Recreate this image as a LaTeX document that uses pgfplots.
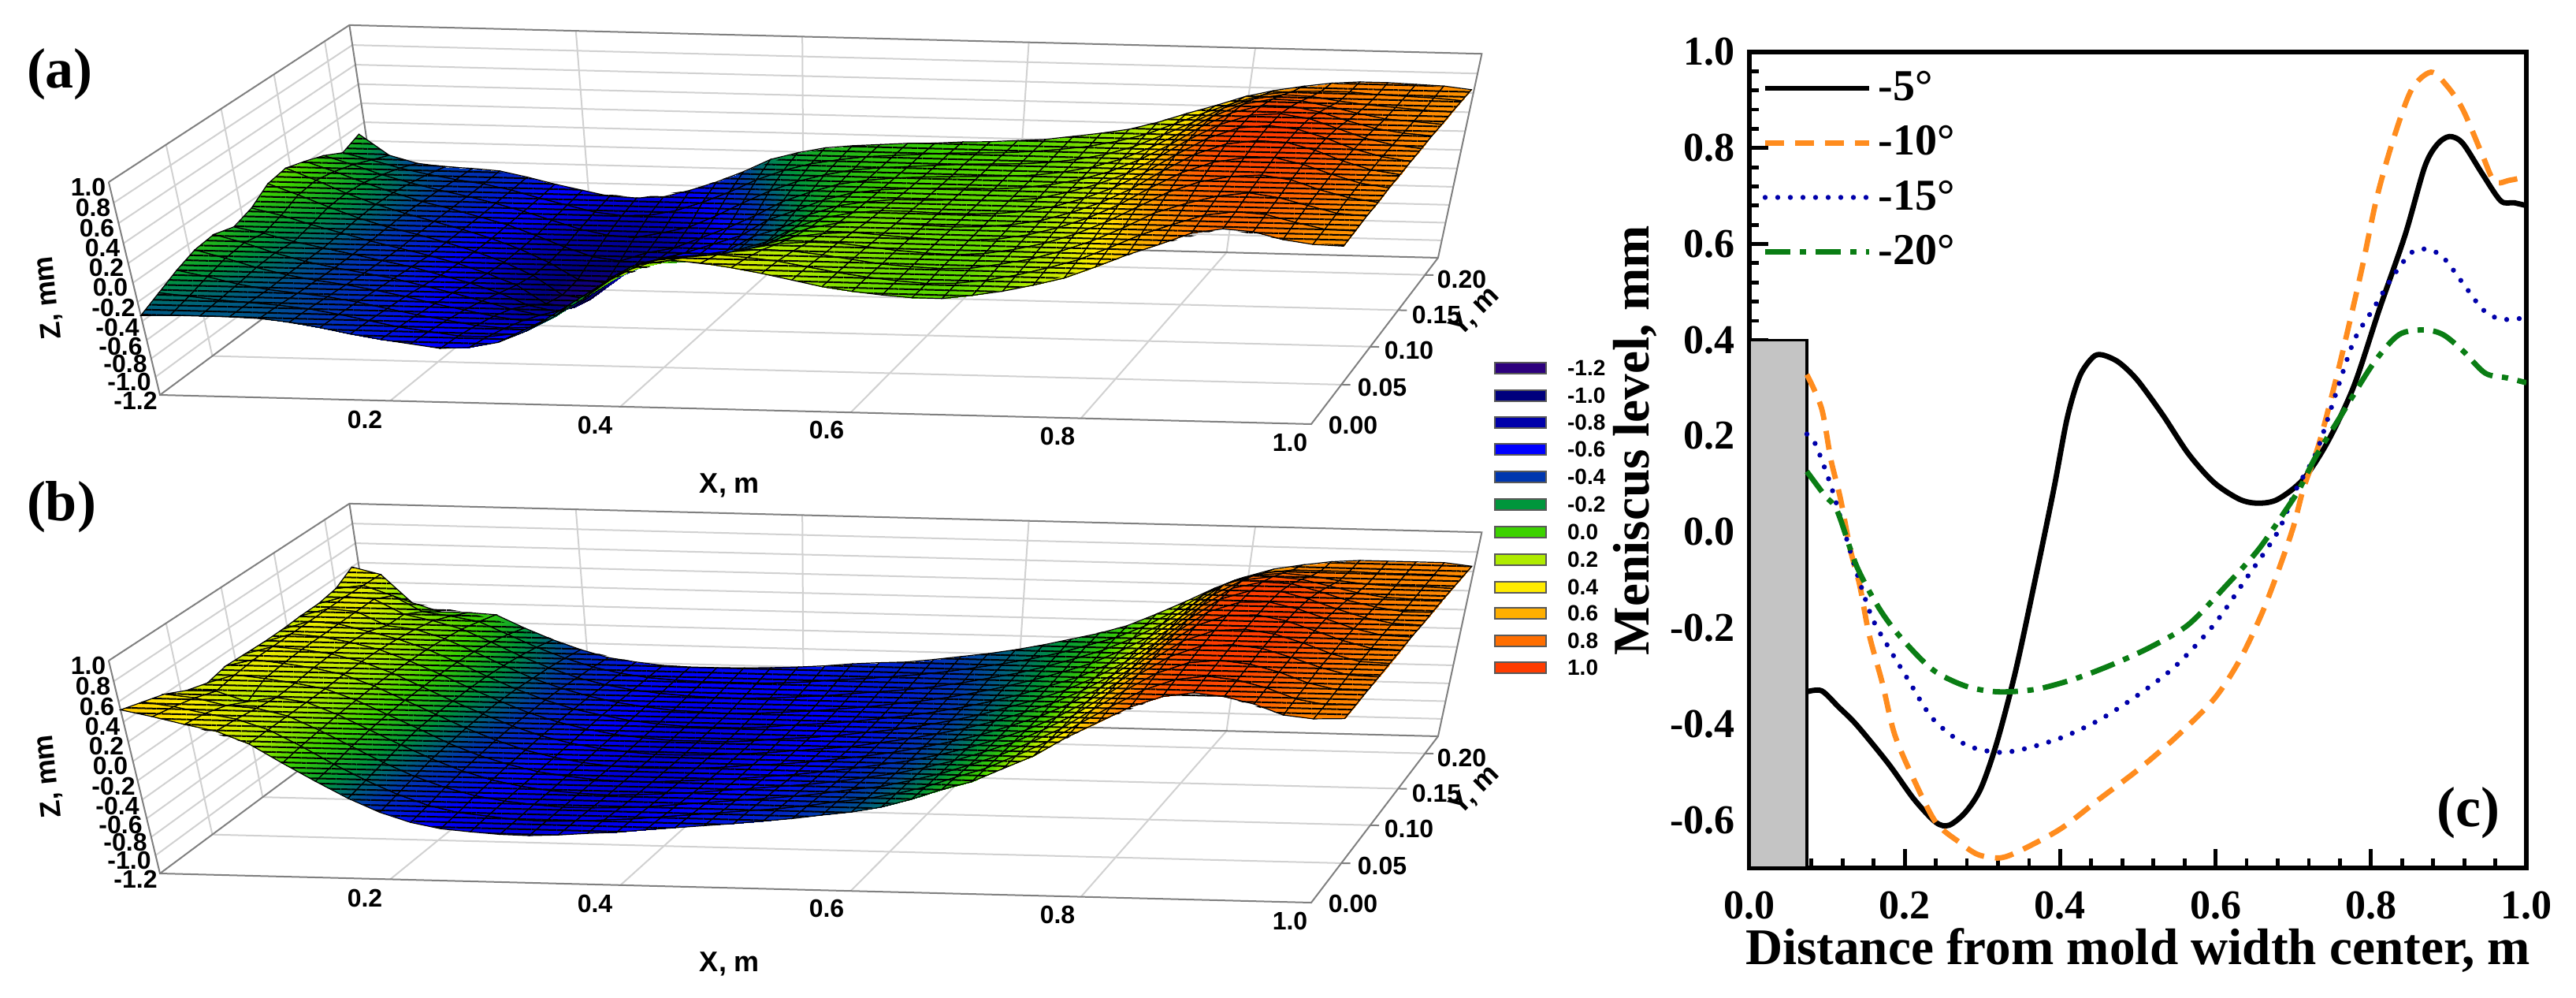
\documentclass[border=0pt]{standalone}
\usepackage{fontspec}
\setmainfont{Liberation Serif}
\newfontfamily\lab{Liberation Sans}
\usepackage{pgfplots}
\usepackage{pgfplotstable}
\pgfplotsset{compat=1.18}
\usetikzlibrary{patterns.meta}

% z(x,y) of the surfaces: one line for each x = 0, .025, ... 1; on a line y runs from back to front
\pgfplotstableread[row sep=\\]{z\\
-.08\\-.15\\-.05\\.02\\.08\\.05\\-.07\\-.13\\-.07\\-.09\\-.16\\-.25\\-.34\\
-.30\\-.22\\-.14\\-.08\\-.04\\-.06\\-.14\\-.19\\-.15\\-.17\\-.22\\-.28\\-.33\\
-.38\\-.30\\-.24\\-.19\\-.17\\-.18\\-.23\\-.27\\-.25\\-.26\\-.29\\-.31\\-.33\\
-.41\\-.36\\-.32\\-.29\\-.28\\-.29\\-.31\\-.33\\-.33\\-.33\\-.34\\-.33\\-.33\\
-.42\\-.41\\-.39\\-.38\\-.37\\-.38\\-.39\\-.39\\-.39\\-.38\\-.37\\-.35\\-.34\\
-.44\\-.45\\-.45\\-.45\\-.45\\-.45\\-.46\\-.45\\-.44\\-.42\\-.40\\-.38\\-.37\\
-.50\\-.51\\-.52\\-.53\\-.53\\-.53\\-.53\\-.51\\-.49\\-.47\\-.45\\-.43\\-.42\\
-.57\\-.59\\-.60\\-.61\\-.62\\-.62\\-.61\\-.59\\-.56\\-.53\\-.51\\-.49\\-.48\\
-.63\\-.66\\-.69\\-.72\\-.73\\-.73\\-.71\\-.67\\-.63\\-.60\\-.57\\-.55\\-.53\\
-.69\\-.73\\-.78\\-.84\\-.87\\-.87\\-.83\\-.77\\-.71\\-.66\\-.62\\-.59\\-.57\\
-.70\\-.76\\-.84\\-.94\\-1.05\\-1.08\\-1.03\\-.90\\-.79\\-.72\\-.67\\-.63\\-.61\\
-.68\\-.75\\-.86\\-.98\\-1.08\\-1.12\\-1.06\\-.96\\-.85\\-.76\\-.69\\-.63\\-.59\\
-.60\\-.69\\-.80\\-.88\\-.92\\-.88\\-.85\\-.81\\-.77\\-.73\\-.67\\-.59\\-.53\\
-.50\\-.59\\-.73\\-.82\\-.80\\-.70\\-.64\\-.59\\-.56\\-.53\\-.48\\-.44\\-.40\\
-.38\\-.47\\-.60\\-.70\\-.72\\-.63\\-.53\\-.42\\-.37\\-.32\\-.29\\-.25\\-.24\\
-.24\\-.33\\-.45\\-.58\\-.62\\-.60\\-.50\\-.36\\-.24\\-.14\\-.09\\-.06\\-.05\\
-.16\\-.22\\-.31\\-.44\\-.52\\-.55\\-.50\\-.38\\-.23\\-.09\\.03\\.11\\.16\\
-.10\\-.14\\-.20\\-.28\\-.34\\-.38\\-.38\\-.32\\-.22\\-.08\\.08\\.22\\.32\\
-.07\\-.09\\-.12\\-.17\\-.23\\-.28\\-.29\\-.26\\-.18\\-.06\\.10\\.26\\.37\\
-.05\\-.05\\-.06\\-.08\\-.11\\-.13\\-.13\\-.10\\-.03\\.07\\.18\\.29\\.35\\
-.03\\-.03\\-.03\\-.03\\-.03\\-.03\\-.02\\.01\\.06\\.13\\.21\\.27\\.31\\
-.02\\-.01\\-.01\\0\\.01\\.02\\.04\\.07\\.10\\.15\\.20\\.24\\.26\\
0\\.01\\.01\\.02\\.03\\.05\\.07\\.09\\.12\\.15\\.17\\.19\\.20\\
.01\\.02\\.03\\.03\\.04\\.05\\.07\\.08\\.10\\.12\\.13\\.14\\.14\\
.03\\.03\\.04\\.04\\.05\\.06\\.06\\.07\\.08\\.09\\.09\\.10\\.10\\
.05\\.05\\.05\\.05\\.05\\.06\\.06\\.06\\.07\\.07\\.07\\.07\\.07\\
.09\\.08\\.07\\.07\\.07\\.07\\.07\\.07\\.07\\.06\\.06\\.05\\.05\\
.13\\.12\\.11\\.11\\.11\\.10\\.10\\.10\\.09\\.08\\.07\\.06\\.05\\
.18\\.18\\.17\\.17\\.17\\.17\\.16\\.15\\.14\\.13\\.12\\.10\\.09\\
.26\\.26\\.26\\.26\\.26\\.26\\.25\\.24\\.22\\.20\\.18\\.16\\.14\\
.36\\.38\\.39\\.39\\.39\\.38\\.37\\.35\\.33\\.30\\.27\\.24\\.21\\
.45\\.50\\.53\\.55\\.55\\.55\\.53\\.50\\.47\\.43\\.38\\.33\\.29\\
.55\\.61\\.68\\.72\\.74\\.74\\.72\\.69\\.65\\.59\\.52\\.46\\.41\\
.62\\.70\\.78\\.85\\.89\\.90\\.89\\.86\\.81\\.75\\.68\\.60\\.54\\
.67\\.74\\.83\\.91\\.97\\1.0\\1.0\\.97\\.92\\.86\\.78\\.71\\.65\\
.71\\.75\\.82\\.90\\.97\\1.02\\1.03\\1.01\\.97\\.92\\.86\\.81\\.77\\
.73\\.75\\.78\\.85\\.92\\.98\\1.0\\1.0\\.98\\.94\\.90\\.85\\.82\\
.73\\.73\\.75\\.79\\.84\\.89\\.92\\.93\\.92\\.90\\.86\\.83\\.80\\
.72\\.72\\.73\\.74\\.77\\.80\\.82\\.83\\.83\\.81\\.79\\.76\\.73\\
.71\\.71\\.71\\.72\\.73\\.74\\.75\\.75\\.75\\.74\\.72\\.70\\.69\\
.68\\.69\\.70\\.70\\.71\\.71\\.71\\.71\\.71\\.70\\.70\\.69\\.68\\
}\surfA

\pgfplotstableread[row sep=\\]{z\\
.40\\.30\\.27\\.27\\.26\\.26\\.27\\.28\\.24\\.30\\.40\\.46\\.52\\
.33\\.34\\.35\\.35\\.35\\.35\\.35\\.35\\.33\\.30\\.37\\.42\\.46\\
.04\\.24\\.33\\.33\\.33\\.33\\.33\\.32\\.30\\.20\\.30\\.36\\.39\\
-.05\\.08\\.18\\.19\\.26\\.28\\.29\\.28\\.26\\.25\\.28\\.31\\.33\\
-.05\\.04\\.12\\.16\\.19\\.21\\.22\\.22\\.21\\.21\\.21\\.21\\.21\\
-.065\\-.01\\.04\\.07\\.09\\.10\\.11\\.11\\.10\\.09\\.07\\.05\\.02\\
-.20\\-.14\\-.09\\-.06\\-.04\\-.03\\-.03\\-.03\\-.04\\-.06\\-.09\\-.13\\-.16\\
-.32\\-.27\\-.23\\-.20\\-.18\\-.17\\-.17\\-.17\\-.18\\-.21\\-.25\\-.29\\-.33\\
-.42\\-.38\\-.35\\-.33\\-.31\\-.30\\-.30\\-.31\\-.33\\-.35\\-.39\\-.43\\-.47\\
-.50\\-.47\\-.45\\-.43\\-.42\\-.42\\-.42\\-.43\\-.45\\-.47\\-.50\\-.54\\-.57\\
-.54\\-.53\\-.52\\-.51\\-.51\\-.51\\-.52\\-.53\\-.54\\-.56\\-.58\\-.61\\-.63\\
-.57\\-.57\\-.57\\-.57\\-.57\\-.58\\-.59\\-.60\\-.61\\-.62\\-.63\\-.64\\-.655\\
-.58\\-.59\\-.60\\-.61\\-.62\\-.63\\-.64\\-.65\\-.65\\-.66\\-.66\\-.67\\-.675\\
-.58\\-.60\\-.62\\-.64\\-.65\\-.66\\-.67\\-.68\\-.68\\-.68\\-.68\\-.68\\-.68\\
-.575\\-.60\\-.63\\-.65\\-.67\\-.68\\-.69\\-.69\\-.69\\-.69\\-.68\\-.67\\-.665\\
-.565\\-.60\\-.63\\-.66\\-.67\\-.68\\-.69\\-.69\\-.69\\-.68\\-.67\\-.65\\-.64\\
-.55\\-.59\\-.62\\-.65\\-.67\\-.68\\-.68\\-.68\\-.67\\-.66\\-.65\\-.63\\-.62\\
-.53\\-.57\\-.60\\-.63\\-.65\\-.66\\-.66\\-.66\\-.65\\-.64\\-.62\\-.60\\-.585\\
-.50\\-.54\\-.58\\-.61\\-.62\\-.63\\-.64\\-.63\\-.63\\-.61\\-.59\\-.57\\-.555\\
-.48\\-.52\\-.55\\-.58\\-.60\\-.61\\-.61\\-.61\\-.60\\-.58\\-.56\\-.54\\-.525\\
-.465\\-.49\\-.52\\-.55\\-.57\\-.58\\-.58\\-.58\\-.57\\-.55\\-.53\\-.51\\-.495\\
-.43\\-.46\\-.49\\-.51\\-.53\\-.54\\-.55\\-.54\\-.53\\-.52\\-.50\\-.48\\-.46\\
-.39\\-.42\\-.45\\-.47\\-.49\\-.50\\-.50\\-.50\\-.49\\-.48\\-.46\\-.44\\-.425\\
-.35\\-.37\\-.40\\-.42\\-.44\\-.45\\-.45\\-.45\\-.44\\-.43\\-.41\\-.39\\-.38\\
-.30\\-.32\\-.34\\-.36\\-.38\\-.39\\-.39\\-.39\\-.39\\-.38\\-.37\\-.35\\-.34\\
-.24\\-.26\\-.28\\-.29\\-.31\\-.32\\-.32\\-.32\\-.32\\-.31\\-.30\\-.29\\-.28\\
-.17\\-.19\\-.20\\-.21\\-.23\\-.23\\-.24\\-.24\\-.24\\-.23\\-.22\\-.21\\-.19\\
-.10\\-.10\\-.11\\-.12\\-.13\\-.14\\-.14\\-.14\\-.14\\-.13\\-.12\\-.10\\-.08\\
-.01\\-.01\\-.01\\-.02\\-.03\\-.03\\-.03\\-.03\\-.03\\-.02\\-.01\\0\\.01\\
.12\\.12\\.12\\.12\\.11\\.11\\.11\\.11\\.11\\.12\\.13\\.14\\.15\\
.26\\.28\\.28\\.28\\.28\\.28\\.28\\.28\\.28\\.28\\.28\\.29\\.29\\
.41\\.47\\.49\\.49\\.49\\.49\\.49\\.49\\.49\\.49\\.48\\.48\\.48\\
.53\\.62\\.70\\.72\\.73\\.73\\.73\\.72\\.71\\.70\\.68\\.66\\.64\\
.62\\.70\\.80\\.88\\.92\\.94\\.94\\.93\\.91\\.89\\.86\\.83\\.80\\
.67\\.74\\.83\\.92\\.99\\1.03\\1.04\\1.04\\1.02\\1.0\\.97\\.94\\.91\\
.71\\.74\\.81\\.90\\.98\\1.03\\1.05\\1.05\\1.04\\1.02\\1.0\\.98\\.955\\
.73\\.74\\.77\\.84\\.91\\.96\\.99\\1.0\\1.0\\.99\\.97\\.95\\.925\\
.73\\.73\\.74\\.78\\.83\\.87\\.90\\.91\\.92\\.91\\.90\\.88\\.86\\
.73\\.73\\.73\\.74\\.77\\.79\\.81\\.82\\.82\\.82\\.80\\.78\\.76\\
.73\\.73\\.73\\.73\\.73\\.74\\.75\\.75\\.75\\.75\\.74\\.73\\.73\\
.70\\.71\\.72\\.73\\.73\\.73\\.74\\.74\\.74\\.74\\.74\\.74\\.74\\
}\surfB

% outlines of the surfaces, for the fine mesh rows
\pgfplotstableread[row sep=\\]{x y z\\
0 0 -.34\\.05 0 -.33\\.1 0 -.34\\.15 0 -.42\\.2 0 -.53\\.25 0 -.61\\.3 0 -.53\\.35 0 -.24\\.4 0 .16\\.45 0 .37\\.5 0 .31\\
.55 0 .20\\.6 0 .10\\.65 0 .05\\.7 0 .09\\.75 0 .21\\.8 0 .41\\.85 0 .65\\.9 0 .82\\.95 0 .73\\1 0 .68\\
1 .1091 .71\\
1 .2182 .68\\.95 .2182 .72\\.9 .2182 .73\\.85 .2182 .67\\.8 .2182 .55\\.75 .2182 .36\\.7 .2182 .18\\.65 .2182 .09\\.6 .2182 .03\\.55 .2182 0\\
.5 .2182 -.03\\.45 .2182 -.07\\.4 .2182 -.16\\.35 .2182 -.38\\.3 .2182 -.60\\.25 .2182 -.70\\.2 .2182 -.63\\.15 .2182 -.50\\.1 .2182 -.42\\.05 .2182 -.38\\.025 .2182 -.30\\
0 .2182 -.08\\0 .2001 -.15\\0 .1819 -.05\\0 .1637 .02\\0 .1455 .08\\0 .1273 .05\\0 .1091 -.07\\0 .0909 -.13\\0 .0728 -.07\\0 .0546 -.09\\0 .0364 -.16\\0 .0182 -.25\\
}\edgeA
\pgfplotstableread[row sep=\\]{x y z\\
0 0 .52\\.05 0 .39\\.1 0 .21\\.15 0 -.16\\.2 0 -.47\\.25 0 -.63\\.3 0 -.675\\.35 0 -.665\\.4 0 -.62\\.45 0 -.555\\.5 0 -.495\\
.55 0 -.425\\.6 0 -.34\\.65 0 -.19\\.7 0 .01\\.75 0 .29\\.8 0 .64\\.85 0 .91\\.9 0 .925\\.95 0 .76\\1 0 .74\\
1 .1091 .74\\
1 .2182 .70\\.95 .2182 .73\\.9 .2182 .73\\.85 .2182 .67\\.8 .2182 .53\\.75 .2182 .26\\.7 .2182 -.01\\.65 .2182 -.17\\.6 .2182 -.30\\.55 .2182 -.39\\
.5 .2182 -.465\\.45 .2182 -.50\\.4 .2182 -.55\\.35 .2182 -.575\\.3 .2182 -.58\\.25 .2182 -.54\\.2 .2182 -.42\\.15 .2182 -.20\\.1 .2182 -.05\\.05 .2182 .04\\.025 .2182 .33\\
0 .2182 .40\\0 .2001 .30\\0 .1819 .27\\0 .1637 .27\\0 .1455 .26\\0 .1273 .26\\0 .1091 .27\\0 .0909 .28\\0 .0728 .24\\0 .0546 .30\\0 .0364 .40\\0 .0182 .46\\
}\edgeB

% curves of panel (c)
\pgfplotstableread{
x y
.074 -.333
.093 -.331
.115 -.365
.138 -.402
.179 -.483
.212 -.557
.24 -.605
.257 -.611
.278 -.584
.298 -.534
.319 -.436
.343 -.287
.368 -.098
.392 .091
.409 .237
.425 .324
.442 .364
.454 .369
.475 .354
.499 .317
.532 .244
.565 .163
.598 .103
.631 .068
.655 .06
.68 .068
.713 .11
.745 .19
.778 .304
.811 .465
.844 .619
.869 .76
.885 .807
.901 .824
.918 .81
.943 .747
.967 .69
.984 .686
1 .68
}\curveA
\pgfplotstableread{
x y
.074 .328
.093 .257
.105 .15
.117 .071
.13 -.037
.142 -.111
.154 -.213
.171 -.314
.187 -.422
.212 -.517
.24 -.605
.269 -.645
.294 -.672
.323 -.679
.351 -.662
.401 -.618
.45 -.557
.499 -.497
.548 -.429
.598 -.348
.631 -.267
.659 -.172
.68 -.084
.7 .01
.713 .09
.733 .183
.758 .338
.787 .539
.807 .693
.828 .814
.852 .921
.877 .958
.897 .931
.918 .881
.943 .787
.959 .73
.979 .733
1 .74
}\curveB
\pgfplotstableread{
x y
.074 .204
.085 .183
.105 .096
.122 .003
.138 -.084
.158 -.179
.179 -.24
.204 -.307
.236 -.389
.278 -.443
.319 -.459
.351 -.453
.401 -.429
.45 -.392
.499 -.341
.548 -.28
.598 -.193
.639 -.098
.68 0
.704 .09
.729 .163
.754 .284
.778 .398
.803 .465
.828 .532
.852 .582
.873 .589
.893 .572
.918 .519
.943 .465
.963 .445
.984 .443
1 .448
}\curveC
\pgfplotstableread{
x y
.074 .126
.097 .076
.113 .044
.138 -.071
.167 -.159
.195 -.22
.236 -.287
.278 -.321
.319 -.333
.368 -.328
.417 -.307
.466 -.277
.516 -.24
.565 -.193
.614 -.111
.655 -.037
.688 .04
.708 .09
.729 .157
.762 .244
.803 .351
.836 .411
.869 .421
.893 .411
.918 .378
.947 .331
.975 .321
1 .311
}\curveD

\definecolor{c1}{RGB}{45,0,125}
\definecolor{c2}{RGB}{0,0,125}
\definecolor{c3}{RGB}{0,0,170}
\definecolor{c4}{RGB}{0,0,255}
\definecolor{c5}{RGB}{0,55,175}
\definecolor{c6}{RGB}{0,150,60}
\definecolor{c7}{RGB}{60,210,0}
\definecolor{c8}{RGB}{175,235,0}
\definecolor{c9}{RGB}{255,235,0}
\definecolor{c10}{RGB}{255,175,0}
\definecolor{c11}{RGB}{255,110,0}
\definecolor{c12}{RGB}{255,60,0}

\pgfplotsset{
  colormap={mold}{rgb255=(45,0,125) rgb255=(0,0,125) rgb255=(0,0,170) rgb255=(0,0,255)
    rgb255=(0,55,175) rgb255=(0,150,60) rgb255=(60,210,0) rgb255=(175,235,0)
    rgb255=(255,235,0) rgb255=(255,175,0) rgb255=(255,110,0) rgb255=(255,60,0)},
  % the whole page in reference pixels; the boxes (a) and (b) are seen in perspective
  canvas/.style={
    at={(0pt,0pt)},anchor=south west,
    width=817.25pt,height=316.25pt,scale only axis,
    xmin=0,xmax=3269,y dir=reverse,hide axis,clip=false,
    colormap name=mold,point meta min=-1.2,point meta max=1,
    declare function={
      px(\u,\v,\w)=(203+1461*\u+322.8*\v-75*\w)/(1+.0887*\v-.072*\w);
      py(\u,\v,\w)=(501+37*\u-182*\v-286.6*\w)/(1+.0887*\v-.072*\w);
      cl(\i)=floor((\i+.5)/13);
      rw(\i)=.97*(1-(\i-13*floor((\i+.5)/13))/12);
    },
  },
  /pgfplots/table/box3d/.style={row sep=\\,
    x expr={px(\thisrow{x},\thisrow{y}/.225,(\thisrow{z}+1.2)/2.2)},
    y expr={py(\thisrow{x},\thisrow{y}/.225,(\thisrow{z}+1.2)/2.2)}},
  /pgfplots/table/surf3d/.style={x index=0,y index=0,
    x expr={px(cl(\coordindex)/40,rw(\coordindex),(\thisrow{z}+1.2)/2.2)},
    y expr={py(cl(\coordindex)/40,rw(\coordindex),(\thisrow{z}+1.2)/2.2)}},
  gridl/.style={draw=black!18,line width=.5pt,no markers},
  edgel/.style={draw=black!50,line width=.5pt,no markers},
  sfc/.style={surf,shader=faceted interp,faceted color=black,line width=.3pt,
    mesh/rows=13,mesh/cols=41,mesh/ordering=y varies,point meta=\thisrow{z}},
  fine/.style={draw=none,no markers,pattern={Lines[angle=-1.5,distance=1.6pt,line width=.5pt]},pattern color=black},
}

\newcommand{\lb}[3]{\node[font=\lab\bfseries\fontsize{8}{8}\selectfont] at (axis cs:#1,#2) {#3};}
\newcommand{\boxthreeD}{%
  \pgfplotsinvokeforeach{-1,-.8,-.6,-.4,-.2,0,.2,.4,.6,.8}{
    \addplot[gridl] table[box3d] {x y z\\ 0 0 ##1\\ 0 .225 ##1\\ 1 .225 ##1\\};
  }
  \pgfplotsinvokeforeach{.2,.4,.6,.8}{
    \addplot[gridl] table[box3d] {x y z\\ ##1 0 -1.2\\ ##1 .225 -1.2\\ ##1 .225 1\\};
  }
  \pgfplotsinvokeforeach{.05,.1,.15,.2}{
    \addplot[gridl] table[box3d] {x y z\\ 1 ##1 -1.2\\ 0 ##1 -1.2\\ 0 ##1 1\\};
    \addplot[edgel] table[box3d] {x y z\\ 1 ##1 -1.2\\ 1.008 ##1 -1.2\\};
  }
  \addplot[edgel] table[box3d] {x y z\\ 0 0 1\\ 0 .225 1\\ 1 .225 1\\ 1 .225 -1.2\\ 1 0 -1.2\\ 0 0 -1.2\\ 0 0 1\\};
  \addplot[edgel] table[box3d] {x y z\\ 0 .225 1\\ 0 .225 -1.2\\ 0 0 -1.2\\};
  \addplot[edgel] table[box3d] {x y z\\ 0 .225 -1.2\\ 1 .225 -1.2\\};
  \lb{112}{237}{1.0}\lb{118}{263}{0.8}\lb{123}{289}{0.6}\lb{130}{314}{0.4}
  \lb{135}{339}{0.2}\lb{140}{364}{0.0}\lb{144}{390}{-0.2}\lb{149}{415}{-0.4}
  \lb{153}{439}{-0.6}\lb{159}{461}{-0.8}\lb{164}{484}{-1.0}\lb{172}{508}{-1.2}
  \lb{463}{532}{0.2}\lb{755}{539}{0.4}\lb{1049}{545}{0.6}\lb{1342}{553}{0.8}\lb{1637}{561}{1.0}
  \lb{1717}{539}{0.00}\lb{1754}{491}{0.05}\lb{1788}{444}{0.10}\lb{1823}{399}{0.15}\lb{1855}{354}{0.20}
  \node[font=\lab\bfseries\fontsize{9}{9}\selectfont] at (axis cs:926,616) {X, m};
  \node[font=\lab\bfseries\fontsize{9}{9}\selectfont,rotate=96] at (axis cs:62,378) {Z, mm};
  \node[font=\lab\bfseries\fontsize{9}{9}\selectfont,rotate=45] at (axis cs:1872,396) {Y, m};
}
\newcommand{\swatch}[5]{%
  \addplot[fill=#1,draw=black!65,line width=.5pt] coordinates {(1897,#2)(1962,#2)(1962,#4)(1897,#4)} --cycle;
  \node[font=\lab\bfseries\fontsize{7}{7}\selectfont,anchor=west] at (axis cs:1975,#3) {#5};
}

\begin{document}
\begin{tikzpicture}
  \path[use as bounding box] (0pt,0pt) rectangle (817.25pt,316.25pt);

  % panel (a)
  \begin{axis}[canvas,ymin=0,ymax=1265]
    \boxthreeD
    \addplot[sfc] table[surf3d] {\surfA};
    \addplot[fine] table[box3d] {\edgeA} --cycle;
    \node[font=\bfseries\fontsize{18}{18}\selectfont] at (axis cs:76,94) {(a)};
    \swatch{c1}{460}{467}{474}{-1.2}
    \swatch{c2}{495}{502}{509}{-1.0}
    \swatch{c3}{529}{536}{543}{-0.8}
    \swatch{c4}{563}{570}{577}{-0.6}
    \swatch{c5}{598}{605}{612}{-0.4}
    \swatch{c6}{633}{640}{647}{-0.2}
    \swatch{c7}{668}{675}{682}{0.0}
    \swatch{c8}{703}{710}{717}{0.2}
    \swatch{c9}{738}{745}{752}{0.4}
    \swatch{c10}{771}{778}{785}{0.6}
    \swatch{c11}{806}{813}{820}{0.8}
    \swatch{c12}{840}{847}{854}{1.0}
  \end{axis}

  % panel (b): the same box, 607 pixels lower
  \begin{axis}[canvas,ymin=-607,ymax=658]
    \boxthreeD
    \addplot[sfc] table[surf3d] {\surfB};
    \addplot[fine] table[box3d] {\edgeB} --cycle;
    \node[font=\bfseries\fontsize{18}{18}\selectfont] at (axis cs:78,36) {(b)};
  \end{axis}

  % panel (c)
  \begin{axis}[
    at={(555pt,41pt)},anchor=south west,
    width=246.5pt,height=258.75pt,scale only axis,
    xmin=0,xmax=1,ymin=-.7,ymax=1,
    xtick={0,.2,.4,.6,.8,1},ytick={-.6,-.4,-.2,0,.2,.4,.6,.8,1},
    minor tick num=4,tick pos=left,tick align=inside,
    axis line style={line width=1.4pt},
    major tick style={line width=1.2pt,black},minor tick style={line width=1.2pt,black},
    major tick length=6pt,minor tick length=3pt,
    tick label style={font=\bfseries\fontsize{13}{13}\selectfont},
    /pgf/number format/.cd,fixed,fixed zerofill,precision=1,assume math mode=true,/pgfplots/.cd,
    x tick label style={yshift=-4pt},
    y tick label style={xshift=-1pt},
    every axis x label/.style={at={(axis description cs:.5,-.1015)},anchor=center},
    every axis y label/.style={at={(axis description cs:-.147,.524)},anchor=center,rotate=90},
    xlabel={\bfseries\fontsize{16.3}{16.3}\selectfont Distance from mold width center, m},
    ylabel={\bfseries\fontsize{16.3}{16.3}\selectfont Meniscus level, mm},
    legend style={at={(axis description cs:.016,.985)},anchor=north west,draw=none,fill=none,
      font=\bfseries\fontsize{14}{14}\selectfont,row sep=2.5pt,inner sep=0pt},
    legend cell align=left,
    legend image code/.code={\draw[#1] (0pt,0pt) -- (33pt,0pt);},
  ]
    \addplot[fill=black!23,draw=black,line width=.8pt,forget plot] coordinates {(0,-.7)(0,.4)(.074,.4)(.074,-.7)} --cycle;
    \addplot[black,line width=1.7pt,smooth] table {\curveA};
    \addplot[color={rgb,255:red,255;green,140;blue,30},line width=1.7pt,dash pattern=on 6pt off 3.5pt,smooth] table {\curveB};
    \addplot[color={rgb,255:red,0;green,0;blue,170},line width=1.6pt,line cap=round,dash pattern=on 0pt off 4pt,smooth] table {\curveC};
    \addplot[color={rgb,255:red,10;green,125;blue,20},line width=1.7pt,dash pattern=on 8pt off 3pt on 2pt off 3pt,smooth] table {\curveD};
    \legend{-5°,-10°,-15°,-20°}
    \node[font=\bfseries\fontsize{18}{18}\selectfont] at (axis cs:.925,-.585) {(c)};
  \end{axis}
\end{tikzpicture}
\end{document}
